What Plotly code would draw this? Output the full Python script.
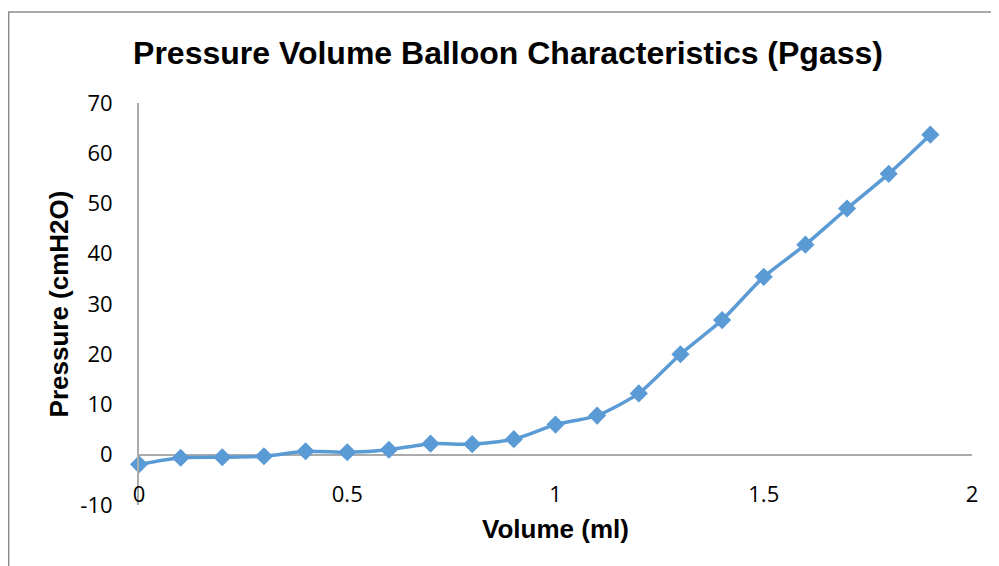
import plotly.graph_objects as go

volume_ml = [0.0, 0.1, 0.2, 0.3, 0.4, 0.5, 0.6, 0.7, 0.8, 0.9,
             1.0, 1.1, 1.2, 1.3, 1.4, 1.5, 1.6, 1.7, 1.8, 1.9]
pressure_cmh2o = [-1.9, -0.6, -0.5, -0.3, 0.7, 0.5, 1.0, 2.2, 2.1, 3.1,
                  6.0, 7.8, 12.2, 20.0, 26.8, 35.4, 41.8, 49.0, 55.9, 63.7]
x_ticks = [0, 0.5, 1, 1.5, 2]
x_tick_labels = ["0", "0.5", "1", "1.5", "2"]
y_ticks = [-10, 0, 10, 20, 30, 40, 50, 60, 70]
y_tick_labels = ["-10", "0", "10", "20", "30", "40", "50", "60", "70"]

# page has an 8px body margin; figure is sized to fill the rest of the window
OFF = 8
W, H = 999 - OFF, 566 - OFF
ML, MR, MT, MB = 139 - OFF, 27, 103 - OFF, 61
PW, PH = W - ML - MR, H - MT - MB

def px_x(p):
    return (p - OFF - ML) / PW

def px_y(p):
    return (H - MB - (p - OFF)) / PH

blue = "#5B9BD5"
axis_gray = "#ABABAB"
tick_font = dict(family="Open Sans, Lato, sans-serif", size=22, color="#000000")
bold_font = "Liberation Sans, Arial, sans-serif"

fig = go.Figure()
fig.add_trace(go.Scatter(
    x=volume_ml, y=pressure_cmh2o, mode="lines+markers",
    line=dict(color=blue, width=3.5, shape="spline", smoothing=0.6),
    marker=dict(symbol="diamond", size=14, color=blue),
    showlegend=False, cliponaxis=False,
))

fig.update_layout(
    width=W, height=H,
    margin=dict(l=ML, r=MR, t=MT, b=MB),
    paper_bgcolor="white", plot_bgcolor="white",
    title=dict(text="<b>Pressure Volume Balloon Characteristics (Pgass)</b>",
               font=dict(family=bold_font, size=32, color="#000000"),
               x=(508 - OFF) / W, xref="container", xanchor="center",
               y=1 - (53 - OFF) / H, yref="container", yanchor="middle"),
    xaxis=dict(range=[0, 2], tickvals=x_ticks, ticktext=x_tick_labels,
               showgrid=False, zeroline=False, showline=False, ticks="",
               anchor="free", position=px_y(479),
               tickfont=tick_font,
               title=dict(text="<b>Volume (ml)</b>", standoff=12,
                          font=dict(family=bold_font, size=26, color="#000000"))),
    yaxis=dict(range=[-10, 70], tickvals=y_ticks, ticktext=y_tick_labels,
               showgrid=False, zeroline=True, zerolinecolor=axis_gray, zerolinewidth=2,
               showline=True, linecolor=axis_gray, linewidth=2, ticks="",
               ticklabelstandoff=20,
               tickfont=tick_font,
               title=dict(text="<b>Pressure (cmH2O)</b>", standoff=4,
                          font=dict(family=bold_font, size=26, color="#000000"))),
    shapes=[
        dict(type="line", xref="paper", yref="paper",
             x0=px_x(8), x1=px_x(999), y0=px_y(12), y1=px_y(12),
             line=dict(color="#8C8C8C", width=1.5)),
        dict(type="line", xref="paper", yref="paper",
             x0=px_x(8.7), x1=px_x(8.7), y0=px_y(12), y1=px_y(570),
             line=dict(color="#8C8C8C", width=1.5)),
    ],
)

fig.write_html("out.html")
